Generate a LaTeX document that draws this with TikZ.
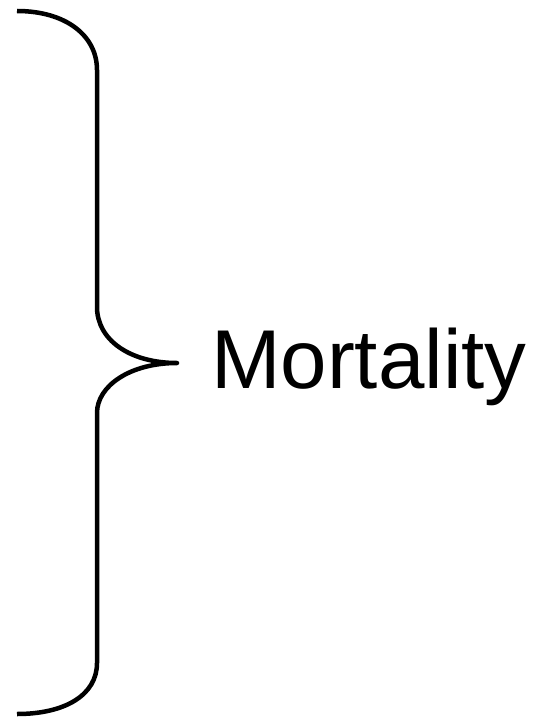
\documentclass[tikz,border=0pt]{standalone}
\usepackage{fontspec}
\setmainfont{Liberation Sans}

\begin{document}
\begin{tikzpicture}[x=1pt,y=1pt,brace/.style={draw,line width=4.5pt,line join=round},label/.style={inner sep=0pt,anchor=base west,font=\fontsize{83.5}{90}\selectfont}]
  \useasboundingbox (0,0) rectangle (539,-717);
  \coordinate (tip) at (177,-363);
  \draw[brace] (17,-11) .. controls (65,-11) and (97,-35) .. (97,-70) -- (97,-307)
    .. controls (97,-340) and (130,-363) .. (tip)
    .. controls (130,-363) and (97,-386) .. (97,-413) -- (97,-663)
    .. controls (97,-695) and (65,-714) .. (17,-714);
  \node[label] (mort) at (211,-388) {Mortality};
\end{tikzpicture}
\end{document}
